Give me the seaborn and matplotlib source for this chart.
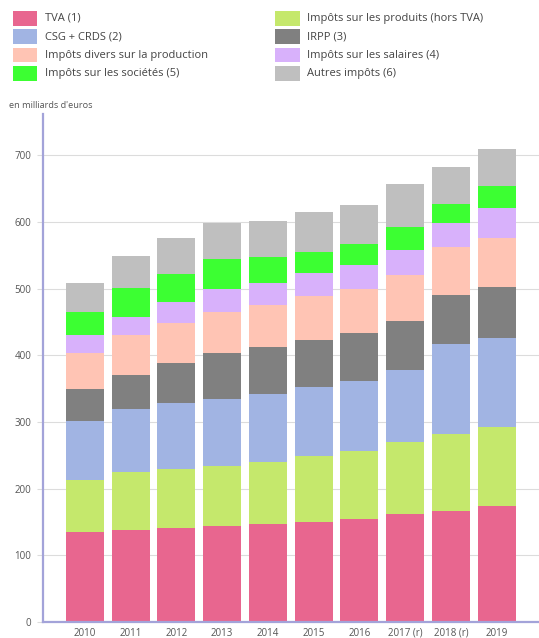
import matplotlib
matplotlib.use("Agg")
import matplotlib.pyplot as plt
from matplotlib.patches import Rectangle
import seaborn as sns
import pandas as pd
import numpy as np

years = ["2010", "2011", "2012", "2013", "2014", "2015", "2016", "2017 (r)", "2018 (r)", "2019"]

tva = [135, 138.5, 141, 144, 147.5, 150.5, 154, 161.5, 166.5, 174.5]
produits = [78, 86.5, 89, 90, 92.5, 98.5, 102, 109, 116, 118]
csg = [89, 95, 98, 101, 102, 104, 105, 107.5, 134.5, 133.5]
irpp = [48, 51, 61, 69, 70, 70, 73, 73, 73, 76]
production = [54, 59, 60, 61, 63, 66, 66, 70, 73, 74]
salaires = [27, 27, 31, 34, 34, 34, 36, 37, 35, 45]
societes = [34, 44, 42, 45, 38, 32, 31, 34, 29, 33]
autres = [44, 48, 54, 55, 55, 60, 59, 65, 55, 55]

labels = ["TVA (1)", "Impôts sur les produits (hors TVA)", "CSG + CRDS (2)", "IRPP (3)",
          "Impôts divers sur la production", "Impôts sur les salaires (4)",
          "Impôts sur les sociétés (5)", "Autres impôts (6)"]
series = [tva, produits, csg, irpp, production, salaires, societes, autres]
colors = ["#e8668f", "#c5e86c", "#a1b4e3", "#808080", "#ffc4b4", "#d8b1fb", "#3cff32", "#bfbfbf"]

y_ticks = [0, 100, 200, 300, 400, 500, 600, 700]

sns.set_theme(style="white")
plt.rcParams["font.family"] = ["Open Sans", "DejaVu Sans"]

W, H = 539, 638
fig = plt.figure(figsize=(W / 100, H / 100), dpi=100)
ax_left, ax_right, ax_bottom_px, ax_top_px = 42.5, 539, 622, 114
ax = fig.add_axes([ax_left / W, 1 - ax_bottom_px / H, (ax_right - ax_left) / W, (ax_bottom_px - ax_top_px) / H])

cum = np.cumsum(np.array(series, dtype=float), axis=0)
df = pd.DataFrame({"year": years})
for i in range(len(series) - 1, -1, -1):
    df["v"] = cum[i]
    sns.barplot(data=df, x="year", y="v", color=colors[i], width=0.83, saturation=1,
                linewidth=0, ax=ax, zorder=3)

ax.set_xlim(-0.925, 9.925)
ax.set_ylim(0, 762)
ax.set_yticks(y_ticks)
ax.set_yticklabels([str(t) for t in y_ticks])
ax.set_xlabel("")
ax.set_ylabel("")
ax.grid(axis="y", color="#dcdcdc", linewidth=0.8, zorder=0)
ax.grid(axis="x", visible=False)
for s in ["top", "right"]:
    ax.spines[s].set_visible(False)
for s in ["left", "bottom"]:
    ax.spines[s].set_color("#a3a3d9")
    ax.spines[s].set_linewidth(1.6)
    ax.spines[s].set_zorder(4)
ax.tick_params(axis="y", length=4, width=0.8, color="#dcdcdc", labelsize=7, labelcolor="#555555", pad=4, left=True)
ax.tick_params(axis="x", length=0, labelsize=7, labelcolor="#555555", pad=4)

fig.text(9 / W, 1 - 106 / H, "en milliards d'euros", fontsize=6.6, color="#555555", va="center", ha="left")

# legend (two columns, drawn in figure pixel coordinates)
order_cols = [[0, 2, 4, 6], [1, 3, 5, 7]]
col_x = [(12.7, 45), (275.3, 307)]
row_top = [11, 29.3, 47.7, 66]
pw, ph = 24.6, 14.7
for c, idxs in enumerate(order_cols):
    px, tx = col_x[c]
    for r, i in enumerate(idxs):
        yt = row_top[r]
        fig.add_artist(Rectangle((px / W, 1 - (yt + ph) / H), pw / W, ph / H,
                                 transform=fig.transFigure, facecolor=colors[i], edgecolor="none"))
        fig.text(tx / W, 1 - (yt + ph / 2) / H, labels[i], fontsize=8, color="#444444",
                 va="center", ha="left")

fig.savefig("out.png", dpi=100)
